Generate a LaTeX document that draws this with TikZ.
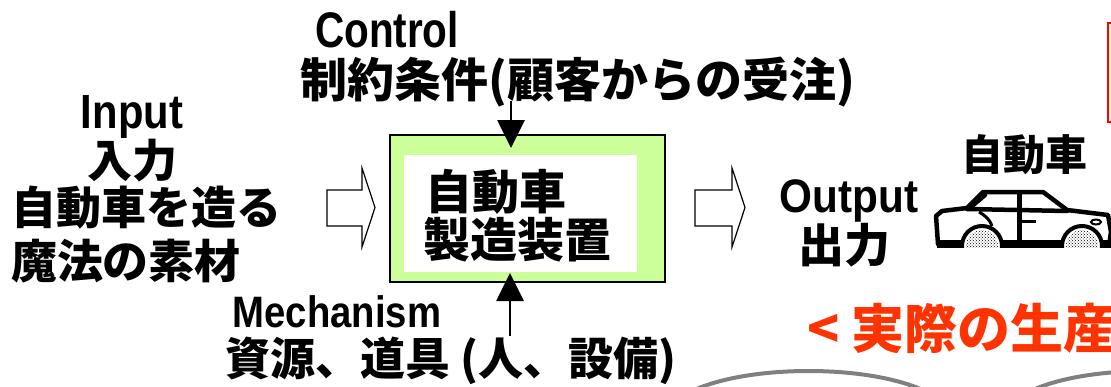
\documentclass[tikz,border=0pt]{standalone}
\usepackage{fontspec}
\setmainfont{Liberation Sans}
\newfontfamily\latfont{Liberation Sans}
\newfontfamily\jpfont{Noto Sans CJK JP}
\usetikzlibrary{arrows.meta,patterns}

\definecolor{boxgreen}{RGB}{204,255,153}
\definecolor{accent}{RGB}{255,51,0}
\definecolor{notebg}{RGB}{255,255,204}
\definecolor{arcgray}{RGB}{128,128,128}

\newcommand\fsz[1]{\fontsize{#1pt}{#1pt}\selectfont}
% Latin label: size, horizontal squeeze, text
\newcommand\latin[3]{\scalebox{#2}[1]{\latfont\bfseries\fsz{#1}#3}}

\tikzset{
  lab/.style={inner sep=0pt, outer sep=0pt},
  jp/.style={lab, font=\jpfont\bfseries},
  outerbox/.style={draw=black, line width=1.2pt, fill=boxgreen, minimum width=275pt, minimum height=147pt, inner sep=0pt},
  innerbox/.style={fill=white, minimum width=233pt, minimum height=117pt, inner sep=0pt},
  ioarrow/.style={line width=2.8pt, -{Triangle[length=28pt,width=27pt]}},
  hollow/.style={draw=black, line width=1.2pt, fill=white, line join=miter},
  carline/.style={draw=black, line width=4.5pt, line join=round, line cap=round},
}

\begin{document}
\begin{tikzpicture}[x=1pt,y=-1pt]
\useasboundingbox (0,0) rectangle (1111,386);
\clip (0,0) rectangle (1111,386);

% note frame at the right edge
\draw[red, line width=2pt, fill=notebg] (1108,23) rectangle (1150,122);

% grey outlines at the bottom
\draw[arcgray, line width=4pt] (808.5,416) ellipse [x radius=140pt, y radius=45pt];
\draw[arcgray, line width=4pt] (1147,416) ellipse [x radius=140pt, y radius=45pt];

% process box
\node[outerbox] (box) at (527.5,208.5) {};
\node[innerbox] (core) at (520.5,213.5) {};
\node[jp, anchor=base west] (boxL1) at (425,209) {\fsz{47}自動車};
\node[jp, anchor=base west] (boxL2) at (423,257) {\fsz{47}製造装置};

% control
\node[lab, anchor=base] (ctlEn) at (387,47) {\latin{50}{0.81}{Control}};
\node[jp, anchor=base] (ctlJp) at (578,97) {\fsz{47}制約条件(顧客からの受注)};
\coordinate (ctlFrom) at (511,101);
\coordinate (ctlTo) at (511,148);
\draw[ioarrow] (ctlFrom) -- (ctlTo);

% input
\node[lab, anchor=base] (inEn) at (132,128) {\latin{48}{0.87}{Input}};
\node[jp, anchor=base] (inJp) at (132,177) {\fsz{45}入力};
\node[jp, anchor=base west] (inL1) at (12,224) {\fsz{45}自動車を造る};
\node[jp, anchor=base west] (inL2) at (11,278) {\fsz{46}魔法の素材};
\draw[hollow] (327,190) -- (362,190) -- (362,168) -- (375,207.5) -- (362,247) -- (362,226) -- (327,226) -- cycle;

% output
\draw[hollow] (695,190) -- (732,190) -- (732,168) -- (745,207.5) -- (732,247) -- (732,226) -- (695,226) -- cycle;
\node[lab, anchor=base] (outEn) at (849,212) {\latin{47}{0.9}{Output}};
\node[jp, anchor=base] (outJp) at (844,262) {\fsz{46}出力};
\node[jp, anchor=base] (carLbl) at (1024,170) {\fsz{42}自動車};

% car pictogram
\draw[carline, fill=white] (938,244) -- (936,216) -- (942,211) -- (967,208) -- (983,192)
  -- (1043,192) -- (1067,210) -- (1108,215) -- (1111,232) -- (1109,246) -- cycle;
\draw[carline] (967,209) -- (1067,211);
\draw[carline] (972,206) -- (985,195);
\draw[black, line width=5pt] (1019,192) -- (1019,246);
\draw[black, line width=3pt] (1022,221) -- (1036,221);
\draw[black, line width=3pt] (979,212) .. controls (986,216) and (990,220) .. (992,226);
\draw[black, line width=2pt] (1096,222) ellipse [x radius=5pt, y radius=2.5pt];
\foreach \cx in {982,1082}{
  \fill[white] (\cx,246) circle [radius=20pt];
  \fill[pattern=crosshatch dots, pattern color=black] (\cx,246) circle [radius=16pt];
  \draw[black, line width=4pt] (\cx,246) circle [radius=20pt];
}
\fill[white] (925,248) rectangle (1111,270);
\fill[black] (937,240) rectangle (962,248);
\fill[black] (1002,240) rectangle (1062,248);
\fill[black] (1102,240) rectangle (1111,248);

% mechanism
\node[lab, anchor=base] (mecEn) at (337,327) {\latin{44}{0.87}{Mechanism}};
\node[jp, anchor=base west] (mecJp) at (225,375) {\fsz{45}資源、道具};
\node[jp, anchor=base west] (mecNote) at (460,375) {\fsz{45}(人、設備)};
\coordinate (mecFrom) at (510,336);
\coordinate (mecTo) at (510,273);
\draw[ioarrow] (mecFrom) -- (mecTo);

% caption
\node[jp, text=accent, anchor=base west] (real) at (807,348) {\fsz{53}< 実際の生産};
\end{tikzpicture}
\end{document}
